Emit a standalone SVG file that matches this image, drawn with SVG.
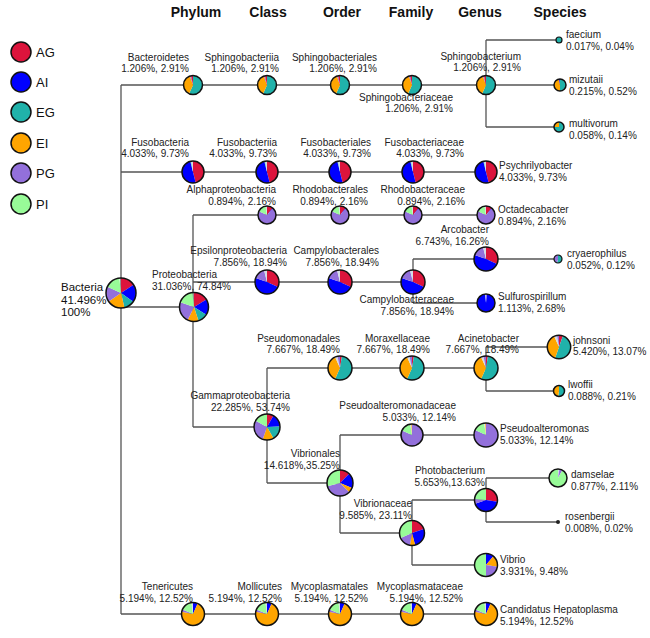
<svg xmlns="http://www.w3.org/2000/svg" xmlns:xlink="http://www.w3.org/1999/xlink" width="650" height="638" viewBox="0 0 650 638">
<style>
.s{fill:none;stroke-width:10}
.ag{stroke:#DC143C}.ai{stroke:#0000FF}.eg{stroke:#20B2AA}.ei{stroke:#FFA500}.pg{stroke:#9370DB}.pi{stroke:#98FB98}.lt{stroke:#D3DCE6}
.rim{fill:none;stroke:#111;stroke-width:1.5}
.lbl{font-family:"Liberation Sans",Arial,sans-serif;font-size:10px;fill:#222}
.e{text-anchor:end}
.hdr{font-family:"Liberation Sans",Arial,sans-serif;font-size:14px;font-weight:bold;text-anchor:middle;fill:#111}
.leg{font-family:"Liberation Sans",Arial,sans-serif;font-size:13px;fill:#111}
.big{font-family:"Liberation Sans",Arial,sans-serif;font-size:11.5px;fill:#111}
.cn{stroke:#555;stroke-width:1.3;fill:none}
</style>
<defs>
<g id="pBac" transform="rotate(-90)">
<circle class="s eg" r="5" pathLength="360" stroke-dasharray="205 360"/>
<circle class="s ei" r="5" pathLength="360" stroke-dasharray="135 360" stroke-dashoffset="-205"/>
<circle class="s pg" r="5" pathLength="360" stroke-dasharray="8 360" stroke-dashoffset="-340"/>
<circle class="s ag" r="5" pathLength="360" stroke-dasharray="12 360" stroke-dashoffset="-348"/>
</g>
<g id="pFus" transform="rotate(-90)">
<circle class="s ag" r="5" pathLength="360" stroke-dasharray="165 360"/>
<circle class="s ai" r="5" pathLength="360" stroke-dasharray="180 360" stroke-dashoffset="-165"/>
<circle class="s eg" r="5" pathLength="360" stroke-dasharray="4 360" stroke-dashoffset="-345"/>
<circle class="s lt" r="5" pathLength="360" stroke-dasharray="11 360" stroke-dashoffset="-349"/>
</g>
<g id="pAlp" transform="rotate(-90)">
<circle class="s ag" r="5" pathLength="360" stroke-dasharray="40 360"/>
<circle class="s ai" r="5" pathLength="360" stroke-dasharray="5 360" stroke-dashoffset="-40"/>
<circle class="s pg" r="5" pathLength="360" stroke-dasharray="250 360" stroke-dashoffset="-45"/>
<circle class="s pi" r="5" pathLength="360" stroke-dasharray="55 360" stroke-dashoffset="-295"/>
<circle class="s lt" r="5" pathLength="360" stroke-dasharray="10 360" stroke-dashoffset="-350"/>
</g>
<g id="pEps" transform="rotate(-90)">
<circle class="s ag" r="5" pathLength="360" stroke-dasharray="115 360"/>
<circle class="s ai" r="5" pathLength="360" stroke-dasharray="175 360" stroke-dashoffset="-115"/>
<circle class="s pg" r="5" pathLength="360" stroke-dasharray="55 360" stroke-dashoffset="-290"/>
<circle class="s lt" r="5" pathLength="360" stroke-dasharray="15 360" stroke-dashoffset="-345"/>
</g>
<g id="pPse" transform="rotate(-90)">
<circle class="s ag" r="5" pathLength="360" stroke-dasharray="10 360"/>
<circle class="s eg" r="5" pathLength="360" stroke-dasharray="195 360" stroke-dashoffset="-10"/>
<circle class="s ei" r="5" pathLength="360" stroke-dasharray="130 360" stroke-dashoffset="-205"/>
<circle class="s lt" r="5" pathLength="360" stroke-dasharray="12 360" stroke-dashoffset="-335"/>
<circle class="s pg" r="5" pathLength="360" stroke-dasharray="13 360" stroke-dashoffset="-347"/>
</g>
<g id="pPal" transform="rotate(-90)">
<circle class="s pg" r="5" pathLength="360" stroke-dasharray="295 360"/>
<circle class="s pi" r="5" pathLength="360" stroke-dasharray="55 360" stroke-dashoffset="-295"/>
<circle class="s lt" r="5" pathLength="360" stroke-dasharray="6 360" stroke-dashoffset="-350"/>
<circle class="s ei" r="5" pathLength="360" stroke-dasharray="4 360" stroke-dashoffset="-356"/>
</g>
<g id="pTen" transform="rotate(-90)">
<circle class="s ai" r="5" pathLength="360" stroke-dasharray="25 360"/>
<circle class="s ei" r="5" pathLength="360" stroke-dasharray="257 360" stroke-dashoffset="-25"/>
<circle class="s pg" r="5" pathLength="360" stroke-dasharray="12 360" stroke-dashoffset="-282"/>
<circle class="s pi" r="5" pathLength="360" stroke-dasharray="58 360" stroke-dashoffset="-294"/>
<circle class="s lt" r="5" pathLength="360" stroke-dasharray="8 360" stroke-dashoffset="-352"/>
</g>
</defs>
<rect width="650" height="638" fill="#fff"/>

<g id="headers">
<text class="hdr" x="196" y="17">Phylum</text>
<text class="hdr" x="268" y="17">Class</text>
<text class="hdr" x="342" y="17">Order</text>
<text class="hdr" x="411" y="17">Family</text>
<text class="hdr" x="480" y="17">Genus</text>
<text class="hdr" x="560" y="17">Species</text>
</g>

<g id="legend">
<circle cx="21" cy="52" r="10" class="rim" style="fill:#DC143C"/><text class="leg" x="36" y="57">AG</text>
<circle cx="21" cy="82" r="10" class="rim" style="fill:#0000FF"/><text class="leg" x="36" y="87">AI</text>
<circle cx="21" cy="112" r="10" class="rim" style="fill:#20B2AA"/><text class="leg" x="36" y="117">EG</text>
<circle cx="21" cy="143" r="10" class="rim" style="fill:#FFA500"/><text class="leg" x="36" y="148">EI</text>
<circle cx="21" cy="173" r="10" class="rim" style="fill:#9370DB"/><text class="leg" x="36" y="178">PG</text>
<circle cx="21" cy="204" r="10" class="rim" style="fill:#98FB98"/><text class="leg" x="36" y="209">PI</text>
</g>

<g id="connectors">
<path class="cn" d="M121 85V614 M121 85H486 M486 40V127 M486 40H559 M486 85H560 M486 127H559 M121 172H485 M121 307H194 M193 215V427 M193 215H486 M193 282H413 M413 259V303 M413 259H558 M413 303H486 M193 427H267 M267 368V483 M267 368H486 M486 347V391 M486 347H559 M486 391H559 M267 483H340 M340 435V533 M340 435H486 M340 533H412 M412 500V565 M412 500H486 M412 565H486 M486 478V522 M486 478H558 M486 522H558 M121 614H486"/>
</g>

<g id="n-bacteria" transform="translate(121,293)">
<g transform="scale(1.5) rotate(-90)">
<circle class="s ag" r="5" pathLength="360" stroke-dasharray="58 360"/>
<circle class="s ai" r="5" pathLength="360" stroke-dasharray="70 360" stroke-dashoffset="-58"/>
<circle class="s eg" r="5" pathLength="360" stroke-dasharray="42 360" stroke-dashoffset="-128"/>
<circle class="s ei" r="5" pathLength="360" stroke-dasharray="70 360" stroke-dashoffset="-170"/>
<circle class="s pg" r="5" pathLength="360" stroke-dasharray="60 360" stroke-dashoffset="-240"/>
<circle class="s pi" r="5" pathLength="360" stroke-dasharray="60 360" stroke-dashoffset="-300"/>
</g>
<circle class="rim" r="15"/>
<text class="big" x="-60" y="-2">Bacteria</text>
<text class="big" x="-60" y="10.5">41.496%</text>
<text class="big" x="-60" y="23">100%</text>
</g>

<g id="n-bacteroidetes"><use href="#pBac" transform="translate(193,85) scale(0.95)"/><circle class="rim" cx="193" cy="85" r="9.5"/>
<text class="lbl e" x="189" y="61">Bacteroidetes</text><text class="lbl e" x="189" y="72">1.206%, 2.91%</text></g>
<g id="n-sphingobacteriia"><use href="#pBac" transform="translate(267,85) scale(0.95)"/><circle class="rim" cx="267" cy="85" r="9.5"/>
<text class="lbl e" x="279" y="61">Sphingobacteriia</text><text class="lbl e" x="279" y="72">1.206%, 2.91%</text></g>
<g id="n-sphingobacteriales"><use href="#pBac" transform="translate(340,85) scale(0.95)"/><circle class="rim" cx="340" cy="85" r="9.5"/>
<text class="lbl e" x="377" y="61">Sphingobacteriales</text><text class="lbl e" x="377" y="72">1.206%, 2.91%</text></g>
<g id="n-sphingobacteriaceae"><use href="#pBac" transform="translate(412,85) scale(0.95)"/><circle class="rim" cx="412" cy="85" r="9.5"/>
<text class="lbl e" x="453" y="101">Sphingobacteriaceae</text><text class="lbl e" x="453" y="112">1.206%, 2.91%</text></g>
<g id="n-sphingobacterium"><use href="#pBac" transform="translate(486,85) scale(0.95)"/><circle class="rim" cx="486" cy="85" r="9.5"/>
<text class="lbl e" x="521" y="60">Sphingobacterium</text><text class="lbl e" x="521" y="71">1.206%, 2.91%</text></g>
<g id="n-faecium"><circle cx="559" cy="40" r="3" class="rim" style="fill:#20B2AA;stroke-width:1.2"/>
<text class="lbl" x="566" y="38">faecium</text><text class="lbl" x="566" y="50">0.017%, 0.04%</text></g>
<g id="n-mizutaii" transform="translate(560,85)">
<g transform="scale(0.6) rotate(-90)">
<circle class="s eg" r="5" pathLength="360" stroke-dasharray="180 360"/>
<circle class="s ei" r="5" pathLength="360" stroke-dasharray="170 360" stroke-dashoffset="-180"/>
<circle class="s ai" r="5" pathLength="360" stroke-dasharray="10 360" stroke-dashoffset="-350"/>
</g><circle class="rim" r="6"/>
<text class="lbl" x="9" y="-2">mizutaii</text><text class="lbl" x="9" y="10">0.215%, 0.52%</text></g>
<g id="n-multivorum" transform="translate(559,127)">
<g transform="scale(0.5) rotate(-90)">
<circle class="s eg" r="5" pathLength="360" stroke-dasharray="270 360"/>
<circle class="s ei" r="5" pathLength="360" stroke-dasharray="90 360" stroke-dashoffset="-270"/>
</g><circle class="rim" r="5"/>
<text class="lbl" x="10" y="0">multivorum</text><text class="lbl" x="10" y="12">0.058%, 0.14%</text></g>

<g id="n-fusobacteria"><use href="#pFus" transform="translate(193,172) scale(1.1)"/><circle class="rim" cx="193" cy="172" r="11"/>
<text class="lbl e" x="189" y="146">Fusobacteria</text><text class="lbl e" x="189" y="157">4.033%, 9.73%</text></g>
<g id="n-fusobacteriia"><use href="#pFus" transform="translate(267,172) scale(1.1)"/><circle class="rim" cx="267" cy="172" r="11"/>
<text class="lbl e" x="277" y="146">Fusobacteriia</text><text class="lbl e" x="277" y="157">4.033%, 9.73%</text></g>
<g id="n-fusobacteriales"><use href="#pFus" transform="translate(340,172) scale(1.1)"/><circle class="rim" cx="340" cy="172" r="11"/>
<text class="lbl e" x="371" y="146">Fusobacteriales</text><text class="lbl e" x="371" y="157">4.033%, 9.73%</text></g>
<g id="n-fusobacteriaceae"><use href="#pFus" transform="translate(413,172) scale(1.1)"/><circle class="rim" cx="413" cy="172" r="11"/>
<text class="lbl e" x="464" y="146">Fusobacteriaceae</text><text class="lbl e" x="464" y="157">4.033%, 9.73%</text></g>
<g id="n-psychrilyobacter"><use href="#pFus" transform="translate(486,172) scale(1.1)"/><circle class="rim" cx="486" cy="172" r="11"/>
<text class="lbl" x="499" y="169">Psychrilyobacter</text><text class="lbl" x="499" y="181">4.033%, 9.73%</text></g>

<g id="n-proteobacteria" transform="translate(194,307)">
<g transform="scale(1.45) rotate(-90)">
<circle class="s ag" r="5" pathLength="360" stroke-dasharray="60 360"/>
<circle class="s ai" r="5" pathLength="360" stroke-dasharray="65 360" stroke-dashoffset="-60"/>
<circle class="s eg" r="5" pathLength="360" stroke-dasharray="40 360" stroke-dashoffset="-125"/>
<circle class="s ei" r="5" pathLength="360" stroke-dasharray="45 360" stroke-dashoffset="-165"/>
<circle class="s pg" r="5" pathLength="360" stroke-dasharray="85 360" stroke-dashoffset="-210"/>
<circle class="s pi" r="5" pathLength="360" stroke-dasharray="65 360" stroke-dashoffset="-295"/>
</g><circle class="rim" r="14.5"/>
<text class="lbl" x="-42" y="-29">Proteobacteria</text><text class="lbl" x="-42" y="-17">31.036%, 74.84%</text></g>

<g id="n-alphaproteobacteria"><use href="#pAlp" transform="translate(267,215) scale(0.9)"/><circle class="rim" cx="267" cy="215" r="9"/>
<text class="lbl e" x="276" y="193">Alphaproteobacteria</text><text class="lbl e" x="276" y="205">0.894%, 2.16%</text></g>
<g id="n-rhodobacterales"><use href="#pAlp" transform="translate(340,215) scale(0.9)"/><circle class="rim" cx="340" cy="215" r="9"/>
<text class="lbl e" x="368" y="193">Rhodobacterales</text><text class="lbl e" x="368" y="205">0.894%, 2.16%</text></g>
<g id="n-rhodobacteraceae"><use href="#pAlp" transform="translate(413,215) scale(0.9)"/><circle class="rim" cx="413" cy="215" r="9"/>
<text class="lbl e" x="465" y="193">Rhodobacteraceae</text><text class="lbl e" x="465" y="205">0.894%, 2.16%</text></g>
<g id="n-octadecabacter"><use href="#pAlp" transform="translate(486,215) scale(0.9)"/><circle class="rim" cx="486" cy="215" r="9"/>
<text class="lbl" x="498" y="213">Octadecabacter</text><text class="lbl" x="498" y="225">0.894%, 2.16%</text></g>

<g id="n-epsilonproteobacteria"><use href="#pEps" transform="translate(267,282) scale(1.2)"/><circle class="rim" cx="267" cy="282" r="12"/>
<text class="lbl e" x="287" y="254">Epsilonproteobacteria</text><text class="lbl e" x="287" y="266">7.856%, 18.94%</text></g>
<g id="n-campylobacterales"><use href="#pEps" transform="translate(340,282) scale(1.2)"/><circle class="rim" cx="340" cy="282" r="12"/>
<text class="lbl e" x="379" y="254">Campylobacterales</text><text class="lbl e" x="379" y="266">7.856%, 18.94%</text></g>
<g id="n-campylobacteraceae"><use href="#pEps" transform="translate(413,282) scale(1.2)"/><circle class="rim" cx="413" cy="282" r="12"/>
<text class="lbl e" x="454" y="303">Campylobacteraceae</text><text class="lbl e" x="454" y="315">7.856%, 18.94%</text></g>
<g id="n-arcobacter"><use href="#pEps" transform="translate(486,259) scale(1.2)"/><circle class="rim" cx="486" cy="259" r="12"/>
<text class="lbl e" x="489" y="233">Arcobacter</text><text class="lbl e" x="489" y="245">6.743%, 16.26%</text></g>
<g id="n-cryaerophilus" transform="translate(558,259)">
<g transform="scale(0.4) rotate(-90)">
<circle class="s eg" r="5" pathLength="360" stroke-dasharray="180 360"/>
<circle class="s pg" r="5" pathLength="360" stroke-dasharray="180 360" stroke-dashoffset="-180"/>
</g><circle class="rim" r="4" style="stroke-width:1.2"/>
<text class="lbl" x="9" y="-2">cryaerophilus</text><text class="lbl" x="9" y="10">0.052%, 0.12%</text></g>
<g id="n-sulfurospirillum" transform="translate(486,303)">
<g transform="scale(0.9) rotate(-90)">
<circle class="s ai" r="5" pathLength="360" stroke-dasharray="350 360" stroke-dashoffset="-5"/>
<circle class="s lt" r="5" pathLength="360" stroke-dasharray="5 360" stroke-dashoffset="-355"/>
<circle class="s pg" r="5" pathLength="360" stroke-dasharray="5 360"/>
</g><circle class="rim" r="9"/>
<text class="lbl" x="12" y="-3">Sulfurospirillum</text><text class="lbl" x="12" y="9">1.113%, 2.68%</text></g>

<g id="n-gammaproteobacteria" transform="translate(267,427)">
<g transform="scale(1.3) rotate(-90)">
<circle class="s ag" r="5" pathLength="360" stroke-dasharray="30 360"/>
<circle class="s ai" r="5" pathLength="360" stroke-dasharray="58 360" stroke-dashoffset="-30"/>
<circle class="s eg" r="5" pathLength="360" stroke-dasharray="62 360" stroke-dashoffset="-88"/>
<circle class="s ei" r="5" pathLength="360" stroke-dasharray="50 360" stroke-dashoffset="-150"/>
<circle class="s pg" r="5" pathLength="360" stroke-dasharray="100 360" stroke-dashoffset="-200"/>
<circle class="s pi" r="5" pathLength="360" stroke-dasharray="60 360" stroke-dashoffset="-300"/>
</g><circle class="rim" r="13"/>
<text class="lbl e" x="23" y="-28">Gammaproteobacteria</text><text class="lbl e" x="23" y="-16">22.285%, 53.74%</text></g>

<g id="n-pseudomonadales"><use href="#pPse" transform="translate(340,368) scale(1.2)"/><circle class="rim" cx="340" cy="368" r="12"/>
<text class="lbl e" x="340" y="342">Pseudomonadales</text><text class="lbl e" x="340" y="353">7.667%, 18.49%</text></g>
<g id="n-moraxellaceae"><use href="#pPse" transform="translate(412,368) scale(1.2)"/><circle class="rim" cx="412" cy="368" r="12"/>
<text class="lbl e" x="430" y="342">Moraxellaceae</text><text class="lbl e" x="430" y="353">7.667%, 18.49%</text></g>
<g id="n-acinetobacter"><use href="#pPse" transform="translate(486,368) scale(1.2)"/><circle class="rim" cx="486" cy="368" r="12"/>
<text class="lbl e" x="519" y="342">Acinetobacter</text><text class="lbl e" x="519" y="353">7.667%, 18.49%</text></g>
<g id="n-johnsoni" transform="translate(559,347)">
<g transform="scale(1.17) rotate(-90)">
<circle class="s ag" r="5" pathLength="360" stroke-dasharray="20 360"/>
<circle class="s eg" r="5" pathLength="360" stroke-dasharray="180 360" stroke-dashoffset="-20"/>
<circle class="s ei" r="5" pathLength="360" stroke-dasharray="135 360" stroke-dashoffset="-200"/>
<circle class="s lt" r="5" pathLength="360" stroke-dasharray="15 360" stroke-dashoffset="-335"/>
<circle class="s pg" r="5" pathLength="360" stroke-dasharray="10 360" stroke-dashoffset="-350"/>
</g><circle class="rim" r="11.7"/>
<text class="lbl" x="14" y="-3">johnsoni</text><text class="lbl" x="14" y="8">5.420%, 13.07%</text></g>
<g id="n-lwoffii" transform="translate(559,391)">
<g transform="scale(0.55) rotate(-90)">
<circle class="s eg" r="5" pathLength="360" stroke-dasharray="190 360"/>
<circle class="s ei" r="5" pathLength="360" stroke-dasharray="170 360" stroke-dashoffset="-190"/>
</g><circle class="rim" r="5.5"/>
<text class="lbl" x="9" y="-3">lwoffii</text><text class="lbl" x="9" y="9">0.088%, 0.21%</text></g>

<g id="n-vibrionales" transform="translate(340,483)">
<g transform="scale(1.3) rotate(-90)">
<circle class="s ag" r="5" pathLength="360" stroke-dasharray="45 360"/>
<circle class="s ai" r="5" pathLength="360" stroke-dasharray="68 360" stroke-dashoffset="-45"/>
<circle class="s ei" r="5" pathLength="360" stroke-dasharray="22 360" stroke-dashoffset="-113"/>
<circle class="s pg" r="5" pathLength="360" stroke-dasharray="120 360" stroke-dashoffset="-135"/>
<circle class="s pi" r="5" pathLength="360" stroke-dasharray="105 360" stroke-dashoffset="-255"/>
</g><circle class="rim" r="13"/>
<text class="lbl e" x="0" y="-26">Vibrionales</text><text class="lbl e" x="0" y="-14">14.618%,35.25%</text></g>
<g id="n-pseudoalteromonadaceae"><use href="#pPal" transform="translate(412,435) scale(1.1)"/><circle class="rim" cx="412" cy="435" r="11"/>
<text class="lbl e" x="456" y="409">Pseudoalteromonadaceae</text><text class="lbl e" x="456" y="421">5.033%, 12.14%</text></g>
<g id="n-pseudoalteromonas"><use href="#pPal" transform="translate(486,435) scale(1.2)"/><circle class="rim" cx="486" cy="435" r="12"/>
<text class="lbl" x="500" y="432">Pseudoalteromonas</text><text class="lbl" x="500" y="444">5.033%, 12.14%</text></g>
<g id="n-vibrionaceae" transform="translate(412,533)">
<g transform="scale(1.25) rotate(-90)">
<circle class="s ag" r="5" pathLength="360" stroke-dasharray="70 360"/>
<circle class="s ai" r="5" pathLength="360" stroke-dasharray="95 360" stroke-dashoffset="-70"/>
<circle class="s ei" r="5" pathLength="360" stroke-dasharray="25 360" stroke-dashoffset="-165"/>
<circle class="s pg" r="5" pathLength="360" stroke-dasharray="55 360" stroke-dashoffset="-190"/>
<circle class="s pi" r="5" pathLength="360" stroke-dasharray="115 360" stroke-dashoffset="-245"/>
</g><circle class="rim" r="12.5"/>
<text class="lbl e" x="0" y="-26">Vibrionaceae</text><text class="lbl e" x="0" y="-14">9.585%, 23.11%</text></g>
<g id="n-photobacterium" transform="translate(486,500)">
<g transform="scale(1.15) rotate(-90)">
<circle class="s ag" r="5" pathLength="360" stroke-dasharray="100 360"/>
<circle class="s ai" r="5" pathLength="360" stroke-dasharray="150 360" stroke-dashoffset="-100"/>
<circle class="s pg" r="5" pathLength="360" stroke-dasharray="25 360" stroke-dashoffset="-250"/>
<circle class="s pi" r="5" pathLength="360" stroke-dasharray="85 360" stroke-dashoffset="-275"/>
</g><circle class="rim" r="11.5"/>
<text class="lbl e" x="-1" y="-26">Photobacterium</text><text class="lbl e" x="-1" y="-14">5.653%,13.63%</text></g>
<g id="n-damselae" transform="translate(558,478)">
<g transform="scale(0.9) rotate(-90)">
<circle class="s lt" r="5" pathLength="360" stroke-dasharray="10 360"/>
<circle class="s pg" r="5" pathLength="360" stroke-dasharray="20 360" stroke-dashoffset="-10"/>
<circle class="s pi" r="5" pathLength="360" stroke-dasharray="330 360" stroke-dashoffset="-30"/>
</g><circle class="rim" r="9"/>
<text class="lbl" x="13" y="0">damselae</text><text class="lbl" x="13" y="12">0.877%, 2.11%</text></g>
<g id="n-rosenbergii"><circle cx="558" cy="522" r="2" fill="#222"/>
<text class="lbl" x="565" y="520">rosenbergii</text><text class="lbl" x="565" y="532">0.008%, 0.02%</text></g>
<g id="n-vibrio" transform="translate(486,565)">
<g transform="scale(1.15) rotate(-90)">
<circle class="s ai" r="5" pathLength="360" stroke-dasharray="40 360"/>
<circle class="s ei" r="5" pathLength="360" stroke-dasharray="60 360" stroke-dashoffset="-40"/>
<circle class="s pg" r="5" pathLength="360" stroke-dasharray="80 360" stroke-dashoffset="-100"/>
<circle class="s pi" r="5" pathLength="360" stroke-dasharray="180 360" stroke-dashoffset="-180"/>
</g><circle class="rim" r="11.5"/>
<text class="lbl" x="14" y="-2">Vibrio</text><text class="lbl" x="14" y="10">3.931%, 9.48%</text></g>

<g id="n-tenericutes"><use href="#pTen" transform="translate(193,614) scale(1.15)"/><circle class="rim" cx="193" cy="614" r="11.5"/>
<text class="lbl e" x="193" y="590">Tenericutes</text><text class="lbl e" x="193" y="602">5.194%, 12.52%</text></g>
<g id="n-mollicutes"><use href="#pTen" transform="translate(267,614) scale(1.15)"/><circle class="rim" cx="267" cy="614" r="11.5"/>
<text class="lbl e" x="282" y="590">Mollicutes</text><text class="lbl e" x="282" y="602">5.194%, 12.52%</text></g>
<g id="n-mycoplasmatales"><use href="#pTen" transform="translate(340,614) scale(1.15)"/><circle class="rim" cx="340" cy="614" r="11.5"/>
<text class="lbl e" x="368" y="590">Mycoplasmatales</text><text class="lbl e" x="368" y="602">5.194%, 12.52%</text></g>
<g id="n-mycoplasmataceae"><use href="#pTen" transform="translate(412,614) scale(1.15)"/><circle class="rim" cx="412" cy="614" r="11.5"/>
<text class="lbl e" x="463" y="590">Mycoplasmataceae</text><text class="lbl e" x="463" y="602">5.194%, 12.52%</text></g>
<g id="n-hepatoplasma"><use href="#pTen" transform="translate(486,614) scale(1.15)"/><circle class="rim" cx="486" cy="614" r="11.5"/>
<text class="lbl" x="500" y="613">Candidatus Hepatoplasma</text><text class="lbl" x="500" y="625">5.194%, 12.52%</text></g>
</svg>
